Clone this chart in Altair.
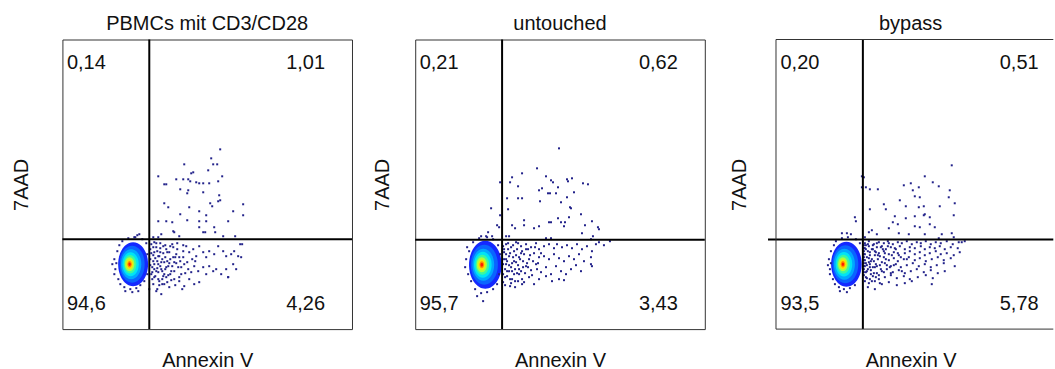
import altair as alt
import pandas as pd

# ---------------- data ----------------
# axis units: arbitrary channel units, box spans 0..290 on both axes
TITLES = ["PBMCs mit CD3/CD28", "untouched", "bypass"]
QUAD_TL = ["0,14", "0,21", "0,20"]
QUAD_TR = ["1,01", "0,62", "0,51"]
QUAD_BL = ["94,6", "95,7", "93,5"]
QUAD_BR = ["4,26", "3,43", "5,78"]
GATE_X = [87, 87, 87]
GATE_Y = [90, 89.5, 89.7]

# density cluster (live cells): contour levels, outer -> inner
LEVEL_COLORS = ["#1428ff", "#0a64ff", "#00a8ff", "#00e4f4", "#3cf8a0",
                "#a8ff40", "#ffe400", "#ff9000", "#ff2000"]
LEVEL_DX = [3.5, 2.5, 1.5, 1, 0.5, 0, 0, 0, 0]
CLUSTER_CX = [67.3, 66.7, 67]
CLUSTER_CY = [65, 64.4, 65]
CLUSTER_SPAN = [
    [44, 37, 30, 24, 18.5, 14, 10, 6.5, 3.5],
    [48, 40, 32, 26, 20, 15, 10.5, 7, 4],
    [45, 38, 31, 24.5, 19, 14, 10, 6.5, 3.5],
]

DOTS_1 = [
    (158,180),(149,171),(151,165),(155,165),(122,165),(146,159),(131,157),(129,156),(126,150),(121,150),
    (114,150),(96,153),(102,145),(104,145),(137,146),(141,146),(147,146),(156,148),(160,153),(134,147),
    (128,148),(118,140),(126,139),(125,136),(141,137),(157,134),(156,128),(148,126),(150,123),(158,129),
    (106,122),(102,126),(127,122),(137,118),(144,114),(118,115),(110,107),(104,108),(96,108),(125,109),
    (137,108),(144,108),(152,102),(153,97),(166,108),(171,118),(181,125),(181,114),(111,98),(112,97),
    (137,102),(141,97),(143,97),(117,93),(161,93),(173,93),(99,95),(96,92),(91,92),(73,92),(75,94),(77,95),
    (89,85),(94,82),(92,77),(97,73),(101,83),(104,80),(107,77),(111,82),(114,75),(117,72),(121,78),(124,83),
    (127,77),(131,80),(134,73),(137,83),(141,77),(144,72),(147,78),(152,75),(156,83),(161,78),(164,73),
    (169,75),(172,78),(176,73),(180,85),(179,72),(91,68),(96,65),(99,60),(102,67),(106,63),(109,58),
    (112,67),(116,62),(119,55),(122,65),(126,60),(129,57),(132,63),(136,58),(137,47),(141,62),(144,55),
    (147,63),(151,58),(154,60),(159,55),(164,60),(166,52),(171,65),(174,60),(92,52),(97,48),(102,45),
    (107,42),(112,50),(117,48),(122,43),(127,50),(132,45),(96,57),(101,53),(104,52),(91,45),(87,40),(94,38),
    (88,70),(90,62),(89,55),(93,71),(95,78),(88,80),(90,50),(92,60),(95,68),(98,77),(100,70),(98,63),
    (91,74),(94,58),(96,50),(100,58),(103,72),(105,68),(103,60),(108,70),(110,63),(113,72),(108,55),
    (118,68),(121,72),(125,67),(130,70),(133,68),(110,85),(115,80),(98,86),(92,87),(100,45),(105,47),
    (113,44),(120,40),(95,40),(99,35),(178,85),(166,52),
    (88,64),(89,76),(90,57),(91,82),(92,65),(93,53),(94,86),(95,61),(96,73),(97,44),(98,81),(99,67),
    (100,50),(101,76),(102,55),(103,84),(104,62),(105,77),(106,54),(107,66),(108,83),(109,49),(111,72),
    (112,58),(114,66),(115,86),(117,52),(119,62),(121,84),(123,56),
    (52,70),(53,60),(55,78),(56,50),(58,45),(62,42),(68,40),(74,41),(78,44),(54,66),(60,88),(66,91),
    (72,92),(80,90),(84,86),(85,75),(85,55),(82,48),(57,84),(63,38),(70,37),(76,38),(50,65),(52,55),
]

DOTS_2 = [
    (144,181),(122,161),(107,156),(97,152),(131,153),(136,149),(138,147),(152,150),(153,148),(157,151),
    (95,147),(103,143),(127,141),(124,139),(133,136),(135,136),(143,142),(141,136),(168,146),(173,145),
    (159,137),(152,132),(146,127),(155,122),(156,121),(166,115),(92,131),(103,131),(107,131),(125,128),
    (85,147),(85,114),(76,121),(93,120),(109,109),(109,104),(97,104),(100,101),(119,101),(124,103),
    (134,107),(136,107),(143,111),(146,107),(149,103),(154,112),(150,107),(170,104),(177,108),(183,102),
    (184,100),(167,96),(178,93),(82,104),(84,102),(73,97),(66,93),(71,93),(77,93),(91,93),(94,93),
    (131,91),(136,91),(176,90),(195,88),
    (91,85),(96,82),(101,87),(106,83),(111,85),(116,82),(121,86),(124,80),(129,83),(134,85),(139,81),
    (142,85),(147,82),(152,84),(157,81),(162,85),(167,80),(172,83),(177,78),(181,85),(184,87),(189,84),
    (89,77),(94,73),(99,78),(104,72),(109,75),(114,70),(119,76),(124,72),(129,73),(134,70),(139,75),
    (144,71),(149,68),(154,73),(159,70),(164,75),(169,68),(176,72),(177,63),(91,65),(96,62),(101,67),
    (106,58),(111,63),(116,59),(121,65),(126,57),(131,62),(136,55),(141,63),(146,58),(151,55),(156,60),
    (161,64),(166,58),(176,65),(92,53),(97,50),(104,55),(109,47),(114,52),(119,45),(124,50),(131,53),
    (137,48),(144,50),(149,49),
    (88,83),(89,70),(90,60),(88,55),(91,75),(93,80),(92,68),(94,58),(95,50),(97,66),(98,72),(100,60),
    (99,55),(102,80),(103,64),(105,70),(107,78),(108,62),(112,66),(88,47),(90,44),(95,43),(100,42),
    (103,48),(107,50),(113,80),(118,68),(122,60),
    (88,65),(89,80),(90,52),(91,70),(92,58),(93,86),(94,64),(95,76),(96,46),(97,58),(98,84),(99,68),
    (100,48),(101,74),(102,56),(103,86),(104,60),(106,76),(107,45),(108,68),(110,56),(111,80),(113,62),
    (115,74),(117,54),(120,82),(123,66),(126,76),
    (50,62),(51,70),(53,55),(54,78),(56,48),(60,40),(66,36),(72,37),(78,40),(82,45),(84,55),(85,75),
    (83,84),(78,90),(72,92),(64,91),(58,87),(52,82),(62,33),(68,28),
]

DOTS_3 = [
    (176,164),(149,153),(157,147),(135,146),(128,144),(137,139),(143,142),(163,143),(174,139),(173,132),
    (139,133),(144,132),(124,129),(130,123),(143,122),(148,123),(164,123),(179,126),(108,125),(94,120),
    (110,120),(86,153),(88,152),(90,142),(86,142),(94,140),(102,140),(119,113),(130,111),(139,113),
    (149,115),(148,114),(154,112),(178,114),(113,101),(117,107),(122,105),(139,103),(144,102),(154,105),
    (159,102),(149,95),(166,95),(176,96),(123,96),(133,95),(96,99),(93,97),(101,95),(79,112),(80,108),
    (66,96),(71,96),(75,95),(89,92),(163,91),(189,88),(178,92),(186,87),
    (89,86),(93,88),(98,85),(103,87),(108,86),(112,88),(117,85),(122,87),(126,86),(131,88),(136,85),
    (141,87),(145,86),(150,88),(155,85),(160,87),(165,86),(171,88),(177,85),(183,87),
    (89,81),(93,83),(97,80),(101,82),(106,83),(110,80),(115,82),(119,81),(124,83),(129,80),(134,82),
    (139,81),(145,83),(149,80),(154,82),(159,81),(164,83),(169,80),(175,82),(182,81),
    (89,75),(94,77),(99,74),(103,76),(108,78),(113,75),(118,77),(123,74),(129,76),(134,78),(139,75),
    (144,77),(149,74),(154,76),(160,78),(165,75),(171,76),(178,74),(184,77),
    (89,69),(93,71),(98,68),(102,70),(108,72),(113,69),(118,71),(122,68),(128,70),(133,72),(139,69),
    (144,71),(150,68),(156,70),(162,72),(168,69),(175,71),
    (89,63),(94,65),(99,62),(104,64),(109,66),(115,63),(120,65),(125,62),(131,64),(137,66),(143,63),
    (149,65),(155,62),(161,64),(168,66),(179,63),
    (90,57),(95,59),(101,56),(106,58),(111,60),(117,57),(123,59),(129,56),(135,58),(141,60),(148,57),
    (155,59),(162,56),(169,58),
    (91,51),(97,53),(103,50),(109,52),(115,54),(121,51),(128,53),(134,50),(142,52),(150,54),(157,51),
    (93,46),(99,48),(106,45),(113,47),(121,44),(129,46),(136,48),(156,45),
    (88,84),(88,78),(88,72),(88,66),(88,60),(88,54),(90,80),(90,66),(91,72),(92,60),(92,85),(94,74),
    (95,68),(95,55),(96,80),(97,62),(100,77),(100,65),(101,86),(104,73),(105,60),(107,80),(110,70),
    (112,83),(114,62),(116,74),(120,80),(125,72),(100,52),(104,46),(96,48),(92,42),(99,40),
    (88,57),(88,63),(88,69),(88,75),(88,81),(89,48),(90,52),(90,84),(91,58),(91,64),(92,78),(93,67),
    (94,50),(94,62),(96,70),(97,84),(98,56),(99,78),(101,63),(102,74),(103,54),(105,82),(106,67),
    (108,57),(109,76),(111,64),(113,86),(115,56),(118,64),(122,76),(126,58),(131,70),
    (53,70),(54,60),(55,78),(57,50),(59,45),(63,42),(68,40),(74,41),(79,44),(55,66),(60,88),(66,91),
    (72,92),(80,90),(84,86),(64,38),(71,37),(52,64),(54,55),(58,84),
]
DOTS = [DOTS_1, DOTS_2, DOTS_3]

# ---------------- layout / style ----------------
FONT = "Liberation Sans"
FS = 20
BOX = 290
X_DOMAIN = [[0, 290], [0, 290], [-8, 277.7]]
Y_TITLE_PAD = [34.7, 26.5, 23]
ELLIPSE = ("M0,-1C0.3756,-1,0.68,-0.5523,0.68,0C0.68,0.5523,0.3756,1,0,1"
           "C-0.3756,1,-0.68,0.5523,-0.68,0C-0.68,-0.5523,-0.3756,-1,0,-1Z")


def panel(i):
    xd = X_DOMAIN[i]
    width = xd[1] - xd[0]
    xs = alt.Scale(domain=xd, nice=False, zero=False)
    ys = alt.Scale(domain=[0, BOX], nice=False, zero=False)
    xax = alt.Axis(title="Annexin V", labels=False, ticks=False, domain=False, grid=False,
                   titleFont=FONT, titleFontSize=FS, titleFontWeight="normal",
                   titleColor="#111111", titlePadding=37, titleBaseline="alphabetic")
    yax = alt.Axis(title="7AAD", labels=False, ticks=False, domain=False, grid=False,
                   titleFont=FONT, titleFontSize=FS, titleFontWeight="normal",
                   titleColor="#111111", titlePadding=Y_TITLE_PAD[i],
                   titleBaseline="alphabetic")

    lev = pd.DataFrame({
        "x": [CLUSTER_CX[i] + d for d in LEVEL_DX],
        "y": [CLUSTER_CY[i]] * len(LEVEL_DX),
        "span": CLUSTER_SPAN[i],
        "col": LEVEL_COLORS,
        "k": list(range(len(LEVEL_DX))),
    })
    cluster = alt.Chart(lev).mark_point(shape=ELLIPSE, filled=True, opacity=1, strokeWidth=0).encode(
        x=alt.X("x:Q", scale=xs, axis=xax),
        y=alt.Y("y:Q", scale=ys, axis=yax),
        size=alt.Size("span:Q", scale=alt.Scale(type="pow", exponent=2, domain=[0, BOX],
                                                range=[0, BOX * BOX]), legend=None),
        color=alt.Color("col:N", scale=None),
        order=alt.Order("k:Q"),
    )

    dots_df = pd.DataFrame(DOTS[i], columns=["x", "y"])
    dots = alt.Chart(dots_df).mark_square(size=4, color="#22228a", opacity=1).encode(
        x=alt.X("x:Q", scale=xs), y=alt.Y("y:Q", scale=ys))

    gx = alt.Chart(pd.DataFrame({"g": [GATE_X[i]]})).mark_rule(color="black", strokeWidth=2).encode(
        x=alt.X("g:Q", scale=xs))
    gy = alt.Chart(pd.DataFrame({"g": [GATE_Y[i]]})).mark_rule(color="black", strokeWidth=2).encode(
        y=alt.Y("g:Q", scale=ys))

    labels = pd.DataFrame({
        "t": [QUAD_TL[i], QUAD_TR[i], QUAD_BL[i], QUAD_BR[i]],
        "x": [4.5, 263, 4.5, 263],
        "y": [260.5, 260.5, 18.7, 18.7],
        "a": ["left", "right", "left", "right"],
    })
    txt_l = alt.Chart(labels[labels.a == "left"]).mark_text(
        font=FONT, fontSize=FS, align="left", baseline="alphabetic", color="#111111").encode(
        x=alt.X("x:Q", scale=xs), y=alt.Y("y:Q", scale=ys), text="t:N")
    txt_r = alt.Chart(labels[labels.a == "right"]).mark_text(
        font=FONT, fontSize=FS, align="right", baseline="alphabetic", color="#111111").encode(
        x=alt.X("x:Q", scale=xs), y=alt.Y("y:Q", scale=ys), text="t:N")

    layers = [cluster, dots, gx, gy, txt_l, txt_r]
    if i == 2:
        border = pd.DataFrame({"x": [0, 0, 0], "x2": [0, xd[1], xd[1]],
                               "y": [0, 0, BOX], "y2": [BOX, 0, BOX]})
        frame = alt.Chart(border).mark_rule(color="#333333", strokeWidth=1).encode(
            x=alt.X("x:Q", scale=xs), x2="x2:Q", y=alt.Y("y:Q", scale=ys), y2="y2:Q")
        layers.append(frame)
        stroke = None
    else:
        stroke = "#333333"

    ch = alt.layer(*layers).properties(
        width=width, height=BOX,
        title=alt.TitleParams(TITLES[i], font=FONT, fontSize=FS, fontWeight="normal",
                              color="#111111", baseline="alphabetic", offset=-11.6,
                              frame="group"),
    )
    if stroke is None:
        ch = ch.properties(view=alt.ViewBackground(stroke=None))
    else:
        ch = ch.properties(view=alt.ViewBackground(stroke=stroke, strokeWidth=1))
    return ch


chart = alt.hconcat(panel(0), panel(1), panel(2), spacing=63.3, bounds="flush").properties(
    padding={"left": 10.5, "top": 13.3, "right": 0, "bottom": 0},
    autosize=alt.AutoSizeParams(type="pad"),
).configure_view(stroke=None)

chart.save("out.html", embed_options={"renderer": "svg", "actions": False})
